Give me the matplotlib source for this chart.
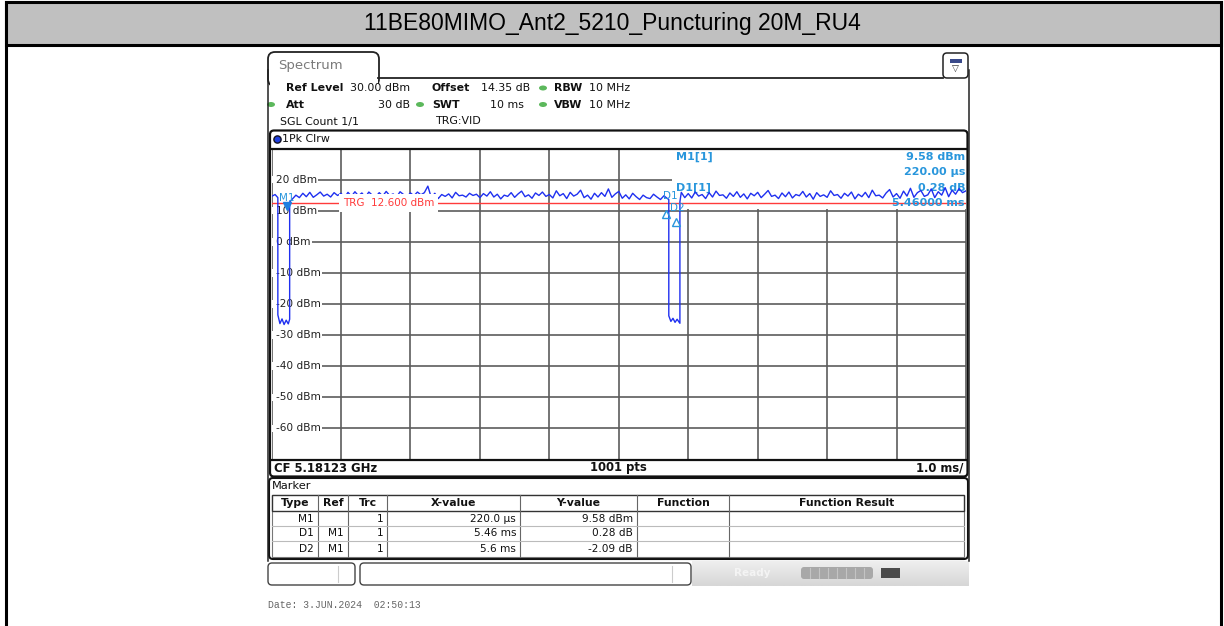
import matplotlib.pyplot as plt
import numpy as np
from matplotlib.patches import Rectangle, FancyBboxPatch, Ellipse, Circle

W, H = 1224, 626

TITLE = "11BE80MIMO_Ant2_5210_Puncturing 20M_RU4"

# sweep settings (10 ms span, 1.0 ms/div, ref level 30 dBm, 10 dB/div)
SWEEP_MS = 10.0
REF_LEVEL_DBM = 30.0
BOTTOM_DBM = -70.0
TRIGGER_DBM = 12.6
Y_LABELS_DBM = [20, 10, 0, -10, -20, -30, -40, -50, -60]

# trace, one value every 0.05 ms
TRACE_STEP_MS = 0.05
trace_dbm = [
    14.6, 15.2, 14.0, 14.0, 14.0, 14.0, 13.8, 15.0, 14.2, 15.6, 14.5, 15.9, 14.3, 15.1, 16.0, 14.7, 15.3, 14.4, 15.8, 14.9,
    15.6, 14.2, 15.9, 14.6, 16.1, 14.8, 15.7, 14.3, 16.0, 15.0, 14.5, 15.8, 14.7, 16.2, 14.9, 15.4, 14.4, 16.1, 15.2, 14.6,
    15.7, 14.8, 16.0, 15.1, 15.8, 17.9, 14.2, 15.6, 13.9, 15.2, 14.6, 15.4, 14.1, 15.9, 14.8, 15.0, 14.4, 15.6, 14.9, 15.3,
    14.2, 15.5, 14.7, 16.1, 14.4, 15.3, 13.8, 15.0, 14.6, 15.8, 14.3, 15.4, 16.3, 14.5, 15.1, 14.0, 15.7, 14.9, 16.0, 14.6,
    15.2, 14.1, 16.4, 14.8, 15.5, 13.9, 15.9, 14.7, 15.3, 16.6, 14.2, 15.0, 13.7, 15.6, 14.4, 15.8, 14.6, 17.0, 14.3, 15.4,
    16.2, 14.0, 15.1, 13.8, 15.6, 14.5, 13.6, 15.0, 14.2, 13.9, 15.3, 14.4, 13.6, 14.8, 13.9, 14.6, 14.3, 14.8, 15.9, 14.2,
    15.5, 14.1, 16.0, 14.7, 15.2, 13.9, 15.8, 14.4, 16.3, 14.9, 15.1, 14.0, 15.7, 14.6, 16.1, 14.3, 15.4, 13.8, 15.6, 14.8,
    15.9, 14.2, 15.3, 16.5, 14.6, 15.0, 13.9, 15.7, 14.5, 16.0, 14.1, 15.2, 14.8, 16.2, 14.4, 15.5, 13.7, 15.8, 14.6, 15.1,
    14.3, 16.4, 14.9, 15.2, 14.0, 15.6, 14.7, 16.0, 13.8, 15.3, 14.5, 15.9, 14.2, 16.6, 14.8, 15.0, 14.1, 15.7, 16.8, 14.4,
    15.5, 14.0, 16.3, 14.7, 17.2, 14.3, 15.8, 16.5, 14.6, 15.1, 17.0, 14.2, 16.1, 15.0, 17.4, 14.5, 16.6, 15.3, 17.1, 15.8,
    16.4,
]

# the two punctured gaps
dip1_ms = [0.09, 0.09, 0.12, 0.15, 0.18, 0.21, 0.24, 0.26, 0.26]
dip1_dbm = [14.2, -23.5, -26.3, -24.8, -26.6, -25.2, -26.4, -24.9, 12.8]
dip2_ms = [5.72, 5.72, 5.75, 5.78, 5.81, 5.84, 5.88, 5.88]
dip2_dbm = [13.6, -23.8, -25.6, -24.6, -25.9, -24.9, -26.2, 12.9]

# marker table
marker_type = ["M1", "D1", "D2"]
marker_ref = ["", "M1", "M1"]
marker_trc = ["1", "1", "1"]
marker_x_ms = [0.22, 5.46, 5.6]
marker_y = [9.58, 0.28, -2.09]
marker_x_txt = ["220.0 µs", "5.46 ms", "5.6 ms"]
marker_y_txt = ["9.58 dBm", "0.28 dB", "-2.09 dB"]
table_cols = ["Type", "Ref", "Trc", "X-value", "Y-value", "Function", "Function Result"]
col_edges = [272, 318, 348, 387, 520, 637, 729, 964]

BLUE = "#1f30f0"
MK = "#2896dc"
RED = "#ff3b3b"
GREEN = "#5cb85c"
FONT = "DejaVu Sans"

fig = plt.figure(figsize=(W / 100, H / 100), dpi=100)
bg = fig.add_axes([0, 0, 1, 1])
bg.set_xlim(0, W)
bg.set_ylim(H, 0)
bg.axis("off")
px = bg.transData

# ---- title bar and outer border
bg.add_patch(Rectangle((6, 2), W - 9, H + 10, fc="white", ec="black", lw=2.2))
bg.add_patch(Rectangle((6, 2), W - 9, 43, fc="#c0c0c0", ec="black", lw=2.2))
bg.text(W / 2, 23.5, TITLE, ha="center", va="center", fontsize=16.5,
        family="Liberation Sans", color="black")

# ---- spectrum window frame
bg.add_patch(FancyBboxPatch((268, 52), 111, 34, boxstyle="round,pad=0,rounding_size=7",
                            fc="white", ec="#222", lw=1.3))
bg.add_patch(Rectangle((269.5, 78.7), 108, 10, fc="white", ec="none", zorder=2))
bg.plot([378.3, 943], [78.3, 78.3], color="#222", lw=1.3, zorder=3)
bg.plot([268, 268], [70, 561], color="#222", lw=1.1, zorder=3)
bg.plot([969, 969], [70, 561], color="#222", lw=1.1, zorder=3)
bg.text(278, 65, "Spectrum", fontsize=9.5, family=FONT, color="#7a7a7a", va="center")
bg.add_patch(FancyBboxPatch((943, 53), 25, 25, boxstyle="round,pad=0,rounding_size=4",
                            fc="white", ec="#222", lw=1.1, zorder=3))
bg.add_patch(Rectangle((949.5, 58.5), 12, 4.5, fc="#3a4a8a", ec="none", zorder=4))
bg.text(955.5, 69.5, "▽", fontsize=6.5, ha="center", va="center", color="#333", zorder=4)


# ---- setting lines
def hdr(x, y, s, bold=False, ha="left", size=7.9):
    bg.text(x, y, s, fontsize=size, family=FONT, ha=ha, va="center", color="#111",
            fontweight="bold" if bold else "normal")


def led(x, y, color=GREEN):
    bg.add_patch(Ellipse((x, y), 8, 5, fc=color, ec="none"))


hdr(286, 88, "Ref Level", True)
hdr(350, 88, "30.00 dBm")
hdr(432, 88, "Offset", True)
hdr(481, 88, "14.35 dB")
led(543, 88)
hdr(554, 88, "RBW", True)
hdr(589, 88, "10 MHz")
led(271, 104.5)
hdr(286, 104.5, "Att", True)
hdr(410, 104.5, "30 dB", ha="right")
led(420, 104.5)
hdr(432, 104.5, "SWT", True)
hdr(524, 104.5, "10 ms", ha="right")
led(543, 104.5)
hdr(554, 104.5, "VBW", True)
hdr(589, 104.5, "10 MHz")
hdr(280, 121.5, "SGL Count 1/1")
hdr(436, 121.5, "TRG:VID")

# ---- diagram frame
bg.add_patch(FancyBboxPatch((270, 130.5), 697.5, 346, boxstyle="round,pad=0,rounding_size=4",
                            fc="white", ec="#111", lw=1.6))
bg.add_patch(Circle((277.5, 139.5), 3.6, fc="#1f3fe0", ec="#112"))
hdr(282, 139.5, "1Pk Clrw")
hdr(274, 468, "CF 5.18123 GHz", True, size=8.4)
hdr(618, 468, "1001 pts", True, ha="center", size=8.4)
hdr(963, 468, "1.0 ms/", True, ha="right", size=8.4)

# ---- marker table
bg.add_patch(FancyBboxPatch((269, 478), 699, 81, boxstyle="round,pad=0,rounding_size=4",
                            fc="white", ec="#111", lw=1.5))
hdr(272, 486, "Marker", size=8.2)
bg.add_patch(Rectangle((272, 495), 692, 62, fc="white", ec="#777", lw=0.8))
bg.add_patch(Rectangle((272, 495), 692, 16, fc="white", ec="#333", lw=1.0))
for xe in col_edges[1:-1]:
    bg.plot([xe, xe], [495, 557], color="#666", lw=0.8)
for ye in [526, 541]:
    bg.plot([272, 964], [ye, ye], color="#bbb", lw=0.8)
for i, name in enumerate(table_cols):
    hdr((col_edges[i] + col_edges[i + 1]) / 2, 503.5, name, True, ha="center", size=7.8)
row_y = [518.5, 533.5, 548.5]
for r in range(3):
    cells = [marker_type[r], marker_ref[r], marker_trc[r], marker_x_txt[r], marker_y_txt[r]]
    for c, s in enumerate(cells):
        hdr(col_edges[c + 1] - 4, row_y[r], s, ha="right", size=7.6)

# ---- status bar
bg.add_patch(FancyBboxPatch((268, 563), 87, 22, boxstyle="round,pad=0,rounding_size=4",
                            fc="white", ec="#444", lw=1))
bg.add_patch(FancyBboxPatch((360, 563), 331, 22, boxstyle="round,pad=0,rounding_size=4",
                            fc="white", ec="#444", lw=1))
bg.plot([338, 338], [566, 582], color="#ccc", lw=0.8)
bg.plot([672, 672], [566, 582], color="#ccc", lw=0.8)
grad = np.linspace(0.93, 0.84, 24)[:, None] * np.ones((1, 10))
bg.imshow(grad, extent=[692, 969, 586, 561], cmap="gray", vmin=0, vmax=1,
          aspect="auto", origin="upper", zorder=1.5)
bg.add_patch(FancyBboxPatch((801, 567), 72, 12, boxstyle="round,pad=0,rounding_size=3",
                            fc="#a8a8a8", ec="none", zorder=2))
for xv in np.arange(810, 872, 9):
    bg.plot([xv, xv], [568, 578], color="#c4c4c4", lw=0.8, zorder=2.5)
bg.add_patch(Rectangle((881, 567.5), 19, 10, fc="#4a4a4a", ec="none", zorder=2))
bg.text(752, 573, "Ready", fontsize=7.5, family=FONT, color="#f4f4f4", ha="center",
        va="center", fontweight="bold", zorder=2)
bg.set_xlim(0, W)
bg.set_ylim(H, 0)

bg.text(268, 605, "Date: 3.JUN.2024  02:50:13", fontsize=7, family="Liberation Mono",
        color="#666", va="center")

# ---- measurement diagram
ax = fig.add_axes([271.6 / W, 1 - 459.5 / H, (966 - 271.6) / W, (459.5 - 148.5) / H])
ax.set_xlim(0, SWEEP_MS)
ax.set_ylim(BOTTOM_DBM, REF_LEVEL_DBM)
ax.set_xticks(np.arange(0, SWEEP_MS + 0.1, 1.0))
ax.set_yticks(np.arange(BOTTOM_DBM, REF_LEVEL_DBM + 1, 10))
ax.tick_params(length=0, labelbottom=False, labelleft=False)
ax.set_axisbelow(True)
ax.grid(True, color="#5c5c5c", lw=1.2)
ax.spines["left"].set_visible(False)
ax.spines["right"].set_visible(False)
for side in ["top", "bottom"]:
    ax.spines[side].set_color("#111")
    ax.spines[side].set_linewidth(1.6)

for lv in Y_LABELS_DBM:
    ax.add_patch(Rectangle((0, lv - 1.2), 0.1, 2.4, fc="white", ec="none", zorder=1.5))
    ax.text(0.0063, lv, f"{lv} dBm", transform=ax.get_yaxis_transform(), fontsize=7.6,
            family=FONT, va="center", ha="left", color="#222", zorder=2,
            bbox=dict(boxstyle="square,pad=0.12", fc="white", ec="none"))

# marker readout box
ax.add_patch(Rectangle((5.77, 10.7), SWEEP_MS - 5.77, REF_LEVEL_DBM - 10.7, fc="white",
                       ec="none", zorder=2))
ax.axhline(TRIGGER_DBM, color=RED, lw=1.0, zorder=3)

d_x = [marker_x_ms[0] + v for v in marker_x_ms[1:]]
d_y = [marker_y[0] + v for v in marker_y[1:]]

mk_font = dict(fontsize=8, family=FONT, fontweight="bold", color=MK, zorder=3.5,
               transform=px, va="center")
ax.text(676, 156.5, "M1[1]", ha="left", **mk_font)
ax.text(965, 156.5, marker_y_txt[0], ha="right", **mk_font)
ax.text(965, 172, "220.00 µs", ha="right", **mk_font)
ax.text(676, 188, "D1[1]", ha="left", **mk_font)
ax.text(965, 188, marker_y_txt[1], ha="right", **mk_font)
ax.text(965, 203.5, "5.46000 ms", ha="right", **mk_font)

# trace
t_noise = np.arange(len(trace_dbm)) * TRACE_STEP_MS
y_noise = np.array(trace_dbm)
keep = ~(((t_noise >= dip1_ms[0]) & (t_noise <= dip1_ms[-1]))
         | ((t_noise >= dip2_ms[0]) & (t_noise <= dip2_ms[-1])))
t_all = np.concatenate([t_noise[keep], dip1_ms, dip2_ms])
y_all = np.concatenate([y_noise[keep], dip1_dbm, dip2_dbm])
order = np.argsort(t_all, kind="stable")
ax.plot(t_all[order], y_all[order], color=BLUE, lw=1.0, zorder=4)

# markers
ax.plot(marker_x_ms[0], marker_y[0] + 2.0, marker="v", ms=6, color="#1f7fe0", zorder=4.5)
ax.annotate("M1", (marker_x_ms[0], marker_y[0]), xytext=(0, 14), textcoords="offset pixels",
            ha="center", va="center", fontsize=7.5, family=FONT, color=MK, zorder=4.5)
ax.plot(d_x, [v - 1.0 for v in d_y], ls="none", marker="^", ms=6, mfc="none", mec=MK,
        mew=1.0, zorder=4.5)
ax.annotate("D1", (d_x[0], d_y[0]), xytext=(4, 15), textcoords="offset pixels",
            ha="center", va="center", fontsize=7.5, family=FONT, color=MK, zorder=4.5)
ax.annotate("D2", (d_x[1], d_y[1]), xytext=(2, 11), textcoords="offset pixels",
            ha="center", va="center", fontsize=7.5, family=FONT, color=MK, zorder=4.5)

ax.text(343, 203, f"TRG  {TRIGGER_DBM:.3f} dBm", transform=px, fontsize=7.5, family=FONT,
        color=RED, ha="left", va="center", zorder=5,
        bbox=dict(boxstyle="square,pad=0.35", fc="white", ec="none"))

fig.savefig("out.png", dpi=100)
